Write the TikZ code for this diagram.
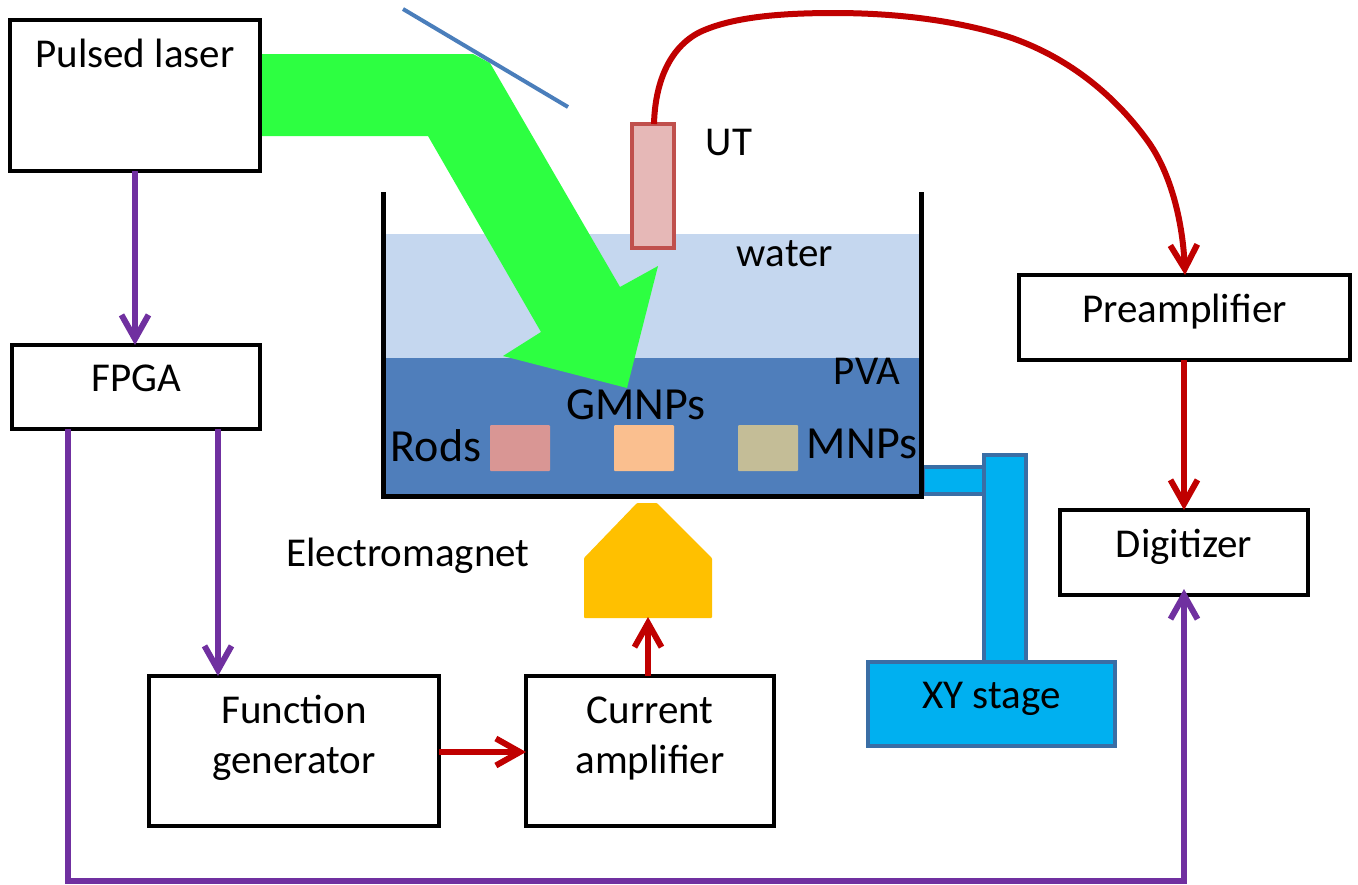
\documentclass[tikz,border=0pt]{standalone}
\usepackage{fontspec}
\setmainfont{Carlito}
\usetikzlibrary{arrows.meta}
\definecolor{purp}{HTML}{7030A0}
\definecolor{redc}{HTML}{C00000}
\definecolor{beam}{HTML}{2DFF41}
\definecolor{waterc}{HTML}{C5D7EF}
\definecolor{pvac}{HTML}{4F7EBB}
\definecolor{stagec}{HTML}{00B0F0}
\definecolor{stageb}{HTML}{3A6EA5}
\definecolor{rodc}{HTML}{D99694}
\definecolor{gmc}{HTML}{FABF8F}
\definecolor{mnc}{HTML}{C4BD97}
\definecolor{utb}{HTML}{C0504D}
\definecolor{utf}{HTML}{E6B8B7}
\definecolor{magc}{HTML}{FFC000}
\definecolor{mirc}{HTML}{4A7EBB}
\newcommand{\twolines}[2]{\begin{tabular}{@{}c@{}}#1\\#2\end{tabular}}
\tikzset{
  x=1pt,y=-1pt,
  blockbox/.style={draw=black,line width=4pt,fill=white,inner sep=0pt,outer sep=0pt,font=\fontsize{41}{50}\selectfont,align=center,anchor=north west},
  lbl/.style={inner sep=0pt,anchor=base,font=\fontsize{41}{50}\selectfont,text=black},
  biglbl/.style={lbl,font=\fontsize{46}{50}\selectfont},
  headtip/.style={-{Straight Barb[length=24pt,width=27pt,line width=6pt]}},
  parr/.style={draw=purp,line width=6pt,headtip},
  rarr/.style={draw=redc,line width=6pt,headtip},
  sample/.style={inner sep=0pt,outer sep=0pt,minimum width=60pt,minimum height=46pt,rounded corners=1pt,anchor=north west},
  stagepart/.style={draw=stageb,line width=4pt,fill=stagec},
}
\begin{document}
\begin{tikzpicture}
\useasboundingbox (0,0) rectangle (1358,884);
% tank contents
\fill[waterc] (383,234) rectangle (921,358);
\fill[pvac] (383,358) rectangle (921,496);
% stage
\draw[stagepart] (923,467) rectangle (984,494);
\draw[stagepart] (984,455) rectangle (1026,662);
\node[stagepart,inner sep=0pt,outer sep=0pt,minimum width=247pt,minimum height=84pt,anchor=north west,font=\fontsize{41}{50}\selectfont,text height=8pt,text depth=0pt] (xy) at (868,662) {XY stage};
% beam
\fill[beam] (262,54) -- (473,54) -- (490,63) -- (620,287) -- (658,266) -- (627,388) -- (503,356) -- (541,332) -- (428,136) -- (262,136) -- cycle;
\coordinate (mirA) at (403,9);
\coordinate (mirB) at (568,107);
\draw[mirc,line width=4pt] (mirA) -- (mirB);
% walls
\draw[black,line width=5pt] (383,192) -- (383,496) -- (921,496) -- (921,192);
% samples
\node[sample,fill=rodc] (rods) at (490,425) {};
\node[sample,fill=gmc] (gm) at (614,425) {};
\node[sample,fill=mnc] (mn) at (738,425) {};
% UT
\node[draw=utb,fill=utf,line width=4pt,outer sep=0pt,minimum width=42pt,minimum height=124pt,inner sep=0pt,anchor=north west] (ut) at (632,124) {};
% magnet
\fill[magc,rounded corners=1pt] (584,558) -- (637,503) -- (657,503) -- (712,558) -- (712,618) -- (584,618) -- cycle;
\coordinate (magbot) at (648,617);
% blocks
\node[blockbox,minimum width=250pt,minimum height=151pt,text height=0pt,text depth=57pt] (laser) at (10,20) {Pulsed laser};
\node[blockbox,minimum width=248pt,minimum height=84pt,text height=9pt,text depth=0pt] (fpga) at (12,345) {FPGA};
\node[blockbox,minimum width=290pt,minimum height=150pt,text height=0pt,text depth=13pt] (func) at (149,676) {\twolines{Function}{generator}};
\node[blockbox,minimum width=248pt,minimum height=150pt,text height=0pt,text depth=13pt] (curr) at (526,676) {\twolines{Current}{amplifier}};
\node[blockbox,minimum width=331pt,minimum height=85pt,text height=10pt,text depth=0pt] (pre) at (1019,275) {Preamplifier};
\node[blockbox,minimum width=248pt,minimum height=85pt,text height=10pt,text depth=0pt] (dig) at (1060,510) {Digitizer};
\coordinate (digin) at (1184,589);
% labels
\node[lbl] (uttxt) at (729,155) {UT};
\node[lbl] (watertxt) at (785,266) {water};
\node[lbl] (pvatxt) at (867,384) {PVA};
\node[biglbl] (gmtxt) at (636,419) {GMNPs};
\node[biglbl] (rodtxt) at (436,461) {Rods};
\node[biglbl] (mntxt) at (862,458) {MNPs};
\node[lbl] (emtxt) at (408,566) {Electromagnet};
% connectors
\draw[parr] (laser.south -| 135,0) -- (fpga.north -| 135,0);
\draw[parr] (fpga.south -| 218,0) -- (func.north -| 218,0);
\draw[parr] (fpga.south -| 68,0) -- (68,881) -- (1184,881) -- (digin);
\draw[rarr] (pre.south -| 1184,0) -- (dig.north -| 1184,0);
\draw[rarr] (func.east |- 0,752) -- (curr.west |- 0,752);
\draw[rarr] (curr.north -| 648,0) -- (magbot);
\draw[rarr] (ut.north -| 654,0) .. controls (655,85) and (668,48) .. (700,32) .. controls (730,18) and (775,13) .. (834,13) .. controls (895,13) and (955,20) .. (1009,37) .. controls (1065,56) and (1112,92) .. (1147,140) .. controls (1172,174) and (1183,225) .. (pre.north -| 1185,0);
\end{tikzpicture}
\end{document}
